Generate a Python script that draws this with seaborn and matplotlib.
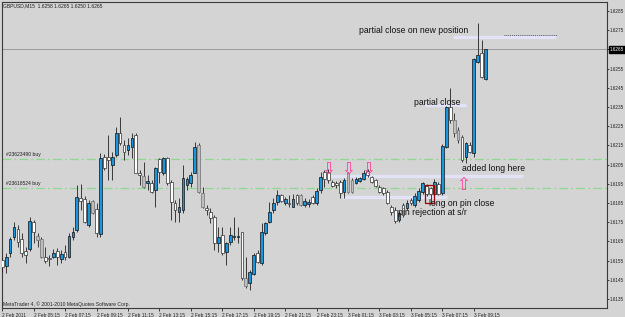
import numpy as np
import pandas as pd
import matplotlib
matplotlib.use("Agg")
import matplotlib.pyplot as plt
import matplotlib.transforms as mtransforms
from matplotlib.patches import Rectangle
import seaborn as sns

# ---------------- data ----------------
chart_title = "GBPUSD,M15  1.6258 1.6265 1.6250 1.6265"
footer_text = "MetaTrader 4, \u00a9 2001-2010 MetaQuotes Software Corp."

open_ = [
    1.61553, 1.61522, 1.61588, 1.61671, 1.61713, 1.61663, 1.61600, 1.61609, 1.61751, 1.61680,
    1.61661, 1.61570, 1.61564, 1.61570, 1.61600, 1.61557, 1.61593, 1.61570, 1.61671, 1.61709,
    1.61875, 1.61872, 1.61735, 1.61859, 1.61817, 1.61689, 1.62091, 1.62091, 1.62048, 1.62100,
    1.62216, 1.62152, 1.62126, 1.62140, 1.62204, 1.62005, 1.61991, 1.61953, 1.61953, 1.61918,
    1.62078, 1.62008, 1.62083, 1.61961, 1.61848, 1.61805, 1.61814, 1.61944, 1.61953, 1.62008,
    1.62152, 1.61901, 1.61822, 1.61805, 1.61779, 1.61640, 1.61683, 1.61596, 1.61648, 1.61671,
    1.61671, 1.61697, 1.61458, 1.61432, 1.61480, 1.61591, 1.61536, 1.61692, 1.61753, 1.61814,
    1.61857, 1.61892, 1.61852, 1.61850, 1.61831, 1.61892, 1.61892, 1.61840, 1.61845, 1.61883,
    1.61848, 1.61918, 1.62013, 1.62013, 1.61961, 1.61954, 1.61961, 1.61909, 1.62005, 1.61970,
    1.61956, 1.61966, 1.61973, 1.62018, 1.61987, 1.61970, 1.61932, 1.61927, 1.61909, 1.61831,
    1.61814, 1.61762, 1.61840, 1.61822, 1.61866, 1.61840, 1.61866, 1.61905, 1.61939, 1.61927,
    1.61897, 1.61949, 1.61901, 1.62143, 1.62348, 1.62282, 1.62230, 1.62195, 1.62091, 1.62152,
    1.62109, 1.62586, 1.62630, 1.62494]
high = [
    1.61562, 1.61588, 1.61675, 1.61753, 1.61735, 1.61692, 1.61622, 1.61779, 1.61762, 1.61692,
    1.61675, 1.61622, 1.61579, 1.61609, 1.61614, 1.61605, 1.61631, 1.61692, 1.61727, 1.61944,
    1.61947, 1.61887, 1.61866, 1.61866, 1.61848, 1.62109, 1.62104, 1.62204, 1.62117, 1.62247,
    1.62300, 1.62178, 1.62187, 1.62213, 1.62216, 1.62022, 1.62065, 1.61996, 1.61970, 1.62039,
    1.62083, 1.62091, 1.62091, 1.61970, 1.61866, 1.61875, 1.62048, 1.61987, 1.62013, 1.62169,
    1.62161, 1.61935, 1.61840, 1.61822, 1.61788, 1.61727, 1.61727, 1.61648, 1.61727, 1.61779,
    1.61727, 1.61700, 1.61569, 1.61501, 1.61588, 1.61605, 1.61744, 1.61753, 1.61857, 1.61875,
    1.61918, 1.61897, 1.61881, 1.61892, 1.61897, 1.61897, 1.61897, 1.61875, 1.61871, 1.61892,
    1.61927, 1.62013, 1.62022, 1.62026, 1.61970, 1.61965, 1.61970, 1.61979, 1.62013, 1.61980,
    1.61985, 1.61987, 1.62022, 1.62026, 1.61991, 1.61973, 1.61944, 1.61933, 1.61918, 1.61840,
    1.61828, 1.61808, 1.61850, 1.61866, 1.61876, 1.61904, 1.61927, 1.61961, 1.61949, 1.61933,
    1.61973, 1.61961, 1.62157, 1.62354, 1.62447, 1.62317, 1.62247, 1.62204, 1.62169, 1.62169,
    1.62604, 1.62786, 1.62699, 1.62652]
low = [
    1.61492, 1.61484, 1.61570, 1.61657, 1.61622, 1.61570, 1.61536, 1.61602, 1.61640, 1.61622,
    1.61562, 1.61536, 1.61522, 1.61562, 1.61527, 1.61536, 1.61553, 1.61562, 1.61657, 1.61700,
    1.61814, 1.61744, 1.61727, 1.61793, 1.61675, 1.61675, 1.62022, 1.61970, 1.61970, 1.62091,
    1.62152, 1.62074, 1.62100, 1.62083, 1.62005, 1.61944, 1.61927, 1.61918, 1.61901, 1.61831,
    1.61953, 1.61996, 1.61944, 1.61762, 1.61753, 1.61753, 1.61796, 1.61918, 1.61935, 1.62005,
    1.61901, 1.61822, 1.61788, 1.61744, 1.61605, 1.61596, 1.61579, 1.61527, 1.61631, 1.61657,
    1.61640, 1.61449, 1.61407, 1.61397, 1.61475, 1.61536, 1.61527, 1.61683, 1.61744, 1.61796,
    1.61840, 1.61857, 1.61840, 1.61831, 1.61828, 1.61840, 1.61834, 1.61828, 1.61831, 1.61845,
    1.61840, 1.61901, 1.61935, 1.61953, 1.61932, 1.61928, 1.61875, 1.61875, 1.61902, 1.61902,
    1.61949, 1.61959, 1.61970, 1.61987, 1.61953, 1.61935, 1.61901, 1.61892, 1.61845, 1.61788,
    1.61744, 1.61753, 1.61777, 1.61814, 1.61840, 1.61831, 1.61857, 1.61897, 1.61887, 1.61850,
    1.61892, 1.61892, 1.61892, 1.62135, 1.62265, 1.62195, 1.62161, 1.62065, 1.62057, 1.62109,
    1.62091, 1.62578, 1.62500, 1.62491]
close = [
    1.61518, 1.61570, 1.61661, 1.61723, 1.61648, 1.61588, 1.61579, 1.61758, 1.61700, 1.61657,
    1.61570, 1.61550, 1.61560, 1.61591, 1.61570, 1.61583, 1.61570, 1.61680, 1.61700, 1.61880,
    1.61862, 1.61753, 1.61852, 1.61800, 1.61692, 1.62083, 1.62031, 1.62074, 1.62091, 1.62213,
    1.62161, 1.62117, 1.62151, 1.62190, 1.62008, 1.61996, 1.61935, 1.61966, 1.61909, 1.62031,
    1.62013, 1.62083, 1.61953, 1.61857, 1.61814, 1.61831, 1.61979, 1.61973, 1.61996, 1.62140,
    1.61909, 1.61831, 1.61814, 1.61770, 1.61640, 1.61671, 1.61588, 1.61643, 1.61683, 1.61678,
    1.61678, 1.61458, 1.61418, 1.61492, 1.61579, 1.61544, 1.61700, 1.61744, 1.61802, 1.61852,
    1.61892, 1.61862, 1.61871, 1.61846, 1.61871, 1.61850, 1.61840, 1.61860, 1.61857, 1.61852,
    1.61913, 1.61987, 1.61973, 1.61970, 1.61939, 1.61944, 1.61901, 1.61970, 1.61909, 1.61909,
    1.61973, 1.61979, 1.62008, 1.61996, 1.61961, 1.61939, 1.61909, 1.61901, 1.61848, 1.61801,
    1.61756, 1.61796, 1.61788, 1.61852, 1.61848, 1.61887, 1.61913, 1.61953, 1.61897, 1.61897,
    1.61961, 1.61897, 1.62147, 1.62348, 1.62282, 1.62213, 1.62178, 1.62074, 1.62161, 1.62117,
    1.62598, 1.62621, 1.62505, 1.62651]

time_tick_bars = [0, 8, 16, 24, 32, 40, 48, 56, 64, 72, 80, 88, 96, 104, 112, 120]
time_tick_labels = ["2 Feb 2011", "2 Feb 05:15", "2 Feb 07:15", "2 Feb 09:15",
                    "2 Feb 11:15", "2 Feb 13:15", "2 Feb 15:15", "2 Feb 17:15",
                    "2 Feb 19:15", "2 Feb 21:15", "2 Feb 23:15", "3 Feb 01:15",
                    "3 Feb 03:15", "3 Feb 05:15", "3 Feb 07:15", "3 Feb 09:15"]
price_ticks = [1.6135, 1.6145, 1.6155, 1.6165, 1.6175, 1.6185, 1.6195, 1.6205,
               1.6215, 1.6225, 1.6235, 1.6245, 1.6255, 1.6265, 1.6275, 1.6285]
current_price = 1.6265
order_levels = [1.62079, 1.61930]
order_names = ["#23623490 buy", "#23618524 buy"]
gray_bars = [9, 10, 23, 36, 50, 51, 62, 76, 88, 89, 115, 116]

# ---------------- style ----------------
BG = "#d4d4d4"
BULL = "#1b95dc"
sns.set_theme(style="white", rc={"axes.facecolor": BG, "figure.facecolor": BG})
plt.rcParams["font.family"] = ["Liberation Sans", "DejaVu Sans"]

df = pd.DataFrame({"open": open_, "high": high, "low": low, "close": close})
df["bar"] = np.arange(len(df))
df["bull"] = df["close"] >= df["open"]
df["bottom"] = df[["open", "close"]].min(axis=1)
df["height"] = (df["close"] - df["open"]).abs().clip(lower=0.00003)
df["fill"] = np.where(df["bull"], BULL, "white")
df["edge"] = np.where(df["bull"], "#101010", "#303030")
df.loc[df["bar"].isin(gray_bars), "fill"] = "#bdbdbd"
df.loc[df["bar"].isin(gray_bars), "edge"] = "#707070"

W, H = 625, 317
fig = plt.figure(figsize=(W / 100, H / 100), dpi=100, facecolor=BG)
ax = fig.add_axes([2 / W, 1 - 308 / H, 605 / W, 306 / H])
ax.set_facecolor(BG)

# wicks and bodies
ax.vlines(df["bar"], df["low"], df["high"], color="#202020", lw=0.6, zorder=3)
ax.bar(df["bar"], df["height"], bottom=df["bottom"], width=0.7,
       color=df["fill"], edgecolor=df["edge"], linewidth=0.5, zorder=4)

ax.set_xlim(-0.05, 153.9)
ax.set_ylim(1.61303, 1.62897)

# current price line
ax.axhline(current_price, color="#9a9a9a", lw=0.7, zorder=1)

# order levels
for lvl, name in zip(order_levels, order_names):
    ax.axhline(lvl, color="#8fd890", lw=0.9, linestyle=(0, (7, 2.5, 1.5, 2.5)), zorder=1)
    ax.annotate(name, xy=(0, lvl), xycoords=("axes fraction", "data"),
                xytext=(3, 1.2), textcoords="offset points", fontsize=3.6,
                color="#202020", va="bottom", ha="left")

# lavender trend-line bands
ax.hlines(1.62715, 114.8, 140.8, color="#e3e3f7", lw=2.4, zorder=2)
ax.hlines(1.62727, 127.6, 141.3, color="#303050", lw=0.6, linestyles=(0, (1, 1.3)), zorder=2)
ax.hlines(1.62360, 107.7, 117.9, color="#e3e3f7", lw=2.4, zorder=2)
ax.hlines(1.61991, 81.5, 132.5, color="#e3e3f7", lw=2.4, zorder=2)
ax.hlines(1.61883, 86.4, 113.2, color="#e3e3f7", lw=2.4, zorder=2)

# pin-bar box
ax.add_patch(Rectangle((107.7, 1.61850), 2.1, 0.00094, fill=False,
                       edgecolor="#a00000", lw=0.9, zorder=6))

# arrows
for b in [83, 88, 93]:
    ax.text(b, 1.62030, "\u21e9", color="#ff3fa0", fontsize=12, ha="center",
            va="center", family="DejaVu Sans", zorder=6)
ax.text(117.2, 1.61945, "\u21e7", color="#ff3fa0", fontsize=12, ha="center",
        va="center", family="DejaVu Sans", zorder=6)

# annotations
ann_kw = dict(fontsize=6.2, color="#101010", ha="left", va="center", zorder=7)
ax.text(90.7, 1.62746, "partial close on new position", **ann_kw)
ax.text(104.7, 1.62376, "partial close", **ann_kw)
ax.text(116.9, 1.62032, "added long here", **ann_kw)
ax.text(108.5, 1.61847, "long on pin close", **ann_kw)
ax.text(100.6, 1.61803, "pin rejection at s/r", **ann_kw)

# axes cosmetics
for s in ax.spines.values():
    s.set_color("#3a3a3a")
    s.set_linewidth(0.8)
ax.yaxis.tick_right()
ax.set_yticks(price_ticks)
ax.set_yticklabels(["" if abs(p - current_price) < 1e-9 else f"{p:.4f}" for p in price_ticks])
ax.tick_params(axis="y", direction="out", length=1.5, width=0.6, pad=0.6,
               labelsize=3.3, colors="#202020", right=True, left=False)
ax.set_xticks(time_tick_bars)
ax.set_xticklabels(time_tick_labels, ha="left")
ax.tick_params(axis="x", direction="out", length=2.5, width=0.6, pad=0.8,
               labelsize=3.4, colors="#202020", bottom=True)
for lbl in ax.get_xticklabels():
    lbl.set_horizontalalignment("left")

# current price box on the price scale
trans = mtransforms.blended_transform_factory(ax.transAxes, ax.transData)
ax.text(1.005, current_price, f"{current_price:.4f}", transform=trans, fontsize=3.3,
        color="white", ha="left", va="center", zorder=10, clip_on=False,
        bbox=dict(boxstyle="square,pad=0.2", fc="black", ec="black"))

fig.text(3 / W, 1 - 6 / H, chart_title, fontsize=3.6, color="#202020", va="center")
fig.text(3 / W, 1 - 304 / H, footer_text, fontsize=3.6, color="#202020", va="center")

fig.savefig("out.png", dpi=100, facecolor=BG)
